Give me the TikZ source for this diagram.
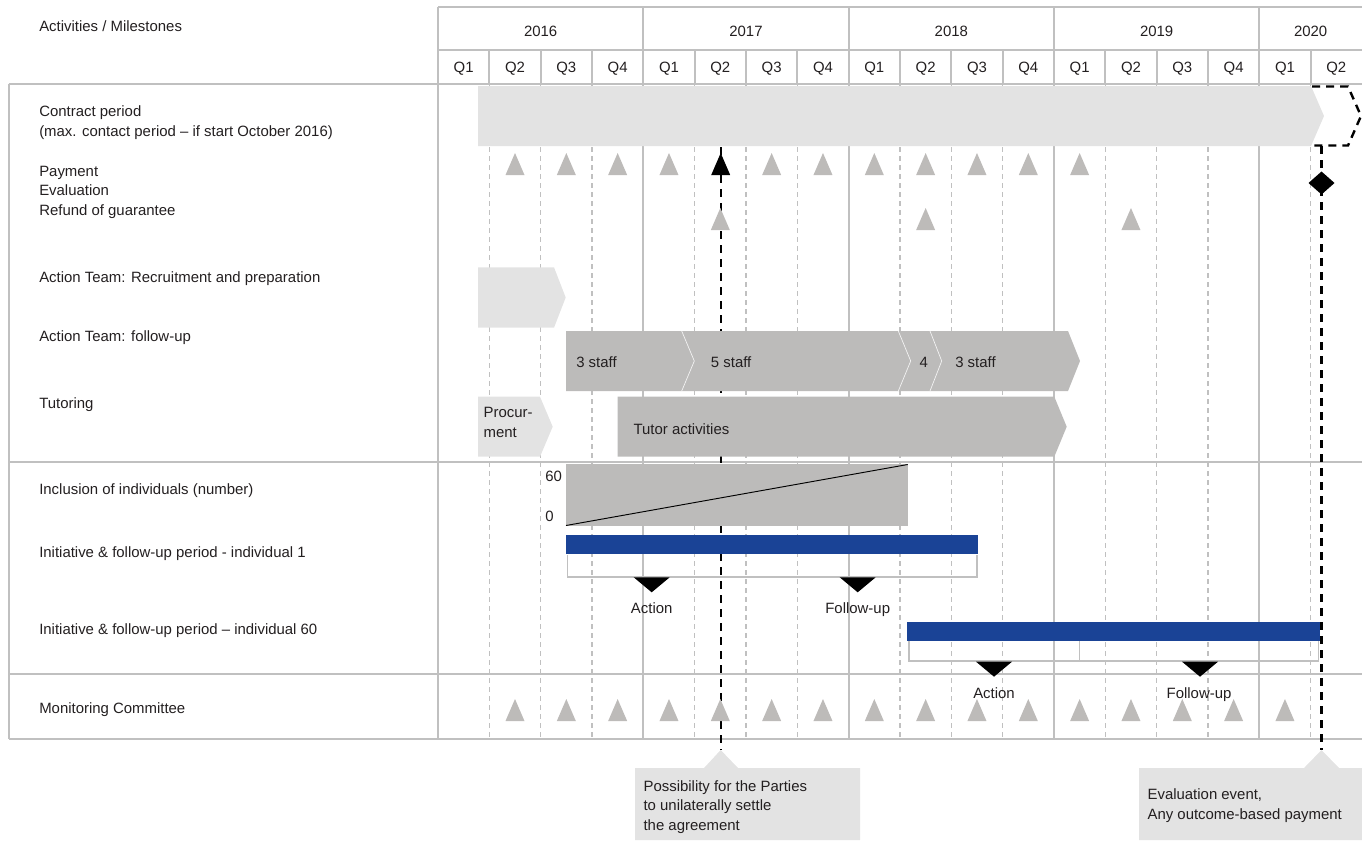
\documentclass[tikz,border=0pt]{standalone}
\usepackage{fontspec}
\setmainfont{Liberation Sans}
\definecolor{gridgray}{HTML}{C0C0C0}
\definecolor{barlight}{HTML}{E3E3E3}
\definecolor{bardark}{HTML}{BCBBBA}
\definecolor{markgray}{HTML}{BDBBB9}
\definecolor{planblue}{HTML}{1A4396}
\definecolor{inkgray}{HTML}{231F20}
\newcommand{\uptri}[3]{\fill[#1] ({#2-9.5},{#3+11}) -- ({#2+9.5},{#3+11}) -- ({#2},{#3-11}) -- cycle;}
\newcommand{\downtri}[2]{\fill[black] ({#1-18},#2) -- ({#1+18},#2) -- ({#1},{#2+15}) -- cycle;}
\tikzset{
  every node/.style={inner sep=0pt, text=inkgray, font=\fontsize{11.2}{14.5}\selectfont},
  rowlabel/.style={anchor=base west, align=left},
  gridline/.style={gridgray, line width=1.5pt},
  quarterline/.style={gridgray, line width=1.1pt, dash pattern=on 3.75pt off 3pt},
  milestone/.style={black, line width=1.8pt, dash pattern=on 6pt off 4.5pt},
  seam/.style={white!85!bardark, line width=0.5pt}
}
\begin{document}
\begin{tikzpicture}[x=0.75pt,y=-0.75pt]
\useasboundingbox (0,0) rectangle (1362,840);
\draw[gridline] (438,7) -- (1362,7);
\draw[gridline] (438,50) -- (1362,50);
\draw[gridline] (8.5,84) -- (1362,84);
\draw[gridline] (8.5,462) -- (1362,462);
\draw[gridline] (8.5,674) -- (1362,674);
\draw[gridline] (8.5,739) -- (1362,739);
\draw[gridline] (8.5,84) -- (8.5,739);
\foreach \i in {0,4,8,12,16}
  \draw[gridline] ({438+51.33*\i},7) -- ({438+51.33*\i},739);
\foreach \i in {1,2,3,5,6,7,9,10,11,13,14,15,17} {
  \draw[gridline] ({438+51.33*\i},50) -- ({438+51.33*\i},84);
  \draw[quarterline] ({438+51.33*\i},84) -- ({438+51.33*\i},739);
}
\node[rowlabel] (head) at (39,31.7) {Activities / Milestones};
\foreach \yr [count=\k from 0] in {2016,2017,2018,2019}
  \node[anchor=base] (y\yr) at ({438+51.33*(4*\k+2)},36.7) {\yr};
\node[anchor=base] (y2020) at ({438+51.33*17},36.7) {2020};
\foreach \i in {0,...,17} {
  \pgfmathtruncatemacro\q{mod(\i,4)+1}
  \node[anchor=base] (q\i) at ({438+51.33*(\i+0.5)},72.7) {Q\q};
}

\node[rowlabel] (contract) at (39,136) {Contract period\\(max. contact period -- if start October 2016)};
\node[rowlabel] (payment) at (39,215) {Payment\\Evaluation\\Refund of guarantee};
\node[rowlabel] (recruit) at (39,282.7) {Action Team: Recruitment and preparation};
\node[rowlabel] (followup) at (39,341.7) {Action Team: follow-up};
\node[rowlabel] (tutoring) at (39,408.3) {Tutoring};
\node[rowlabel] (inclusion) at (39,494) {Inclusion of individuals (number)};
\node[rowlabel] (indiv1) at (39,557.3) {Initiative \& follow-up period - individual 1};
\node[rowlabel] (indiv60) at (39,634.3) {Initiative \& follow-up period -- individual 60};
\node[rowlabel] (monitor) at (39,713.3) {Monitoring Committee};

\coordinate (settletop) at (720.7,147);
\coordinate (settletip) at (720.7,750);
\coordinate (evaltop) at (1321.5,146);
\coordinate (evaltip) at (1321.5,750);
\draw[milestone] (settletop) -- (settletip);
\draw[milestone] (evaltop) -- (evaltip);

\fill[barlight] (478,86) -- (1311,86) -- (1324,116) -- (1311,146) -- (478,146) -- cycle;
\draw[milestone] (1312,86.5) -- (1348,86.5) -- (1361,116) -- (1348,145.5) -- (1312,145.5);
\foreach \i in {1,2,3,4,6,7,8,9,10,11,12} {
  \uptri{markgray}{438+51.33*(\i+0.5)}{164}
}
\uptri{black}{720.7}{164}
\foreach \i in {5,9,13} {
  \uptri{markgray}{438+51.33*(\i+0.5)}{219}
}
\fill[black] (1321.5,171.5) -- (1334.5,183) -- (1321.5,194.5) -- (1308.5,183) -- cycle;

\fill[barlight] (478,267.3) -- (554,267.3) -- (565.7,297.5) -- (554,327.7) -- (478,327.7) -- cycle;
\fill[bardark] (566,331) -- (1068,331) -- (1080,361) -- (1068,391) -- (566,391) -- cycle;
\draw[seam] (681.7,331) -- (694.3,361) -- (681.7,391);
\draw[seam] (898.3,331) -- (910.7,361) -- (898.3,391);
\draw[seam] (930,331) -- (941.7,361) -- (930,391);
\node[anchor=base west] (staff3a) at (576,367.3) {3 staff};
\node[anchor=base west] (staff5) at (710.7,367.3) {5 staff};
\node[anchor=base west] (staff4) at (919.3,367.3) {4};
\node[anchor=base west] (staff3b) at (955,367.3) {3 staff};

\fill[barlight] (478,396.7) -- (540,396.7) -- (552.7,426.7) -- (540,456.7) -- (478,456.7) -- cycle;
\fill[bardark] (617.7,396.7) -- (1054.3,396.7) -- (1066.7,426.7) -- (1054.3,456.7) -- (617.7,456.7) -- cycle;
\node[rowlabel] (procure) at (483.3,437.3) {Procur-\\ment};
\node[anchor=base west] (tutor) at (633.3,434) {Tutor activities};

\fill[bardark] (566,464) rectangle (907.7,525.7);
\draw[black, line width=0.7pt] (566,525.5) -- (907.7,464.5);
\node[anchor=base west] (max60) at (545,481) {60};
\node[anchor=base west] (min0) at (545,521.7) {0};

\fill[planblue] (566,535) rectangle (977.7,554);
\draw[gridline, line width=1.1pt] (567.5,555) -- (567.5,577) -- (977,577) -- (977,555);
\downtri{651.7}{577.3}
\downtri{857.7}{577.3}
\node[anchor=base] (action1) at (651.7,613.3) {Action};
\node[anchor=base] (follow1) at (857.7,613.3) {Follow-up};

\fill[planblue] (907,622.3) rectangle (1320,640.7);
\draw[gridline, line width=1.1pt] (909,641) -- (909,661) -- (1318.5,661) -- (1318.5,641);
\draw[gridline, line width=1.1pt] (1079.5,641) -- (1079.5,661);
\downtri{994}{661.7}
\downtri{1200}{661.7}
\node[anchor=base] (action60) at (994,698.3) {Action};
\node[anchor=base] (follow60) at (1199,698.3) {Follow-up};

\foreach \i in {1,...,16} {
  \uptri{markgray}{438+51.33*(\i+0.5)}{710}
}

\fill[barlight] (635,768) -- (704,768) -- (settletip) -- (738,768) -- (860,768) -- (860,840) -- (635,840) -- cycle;
\node[rowlabel] (settle) at (643.3,830) {Possibility for the Parties\\to unilaterally settle\\the agreement};
\fill[barlight] (1139,768) -- (1304,768) -- (evaltip) -- (1339,768) -- (1362,768) -- (1362,840) -- (1139,840) -- cycle;
\node[rowlabel] (evalnote) at (1147.3,819) {Evaluation event,\\Any outcome-based payment};
\end{tikzpicture}
\end{document}
